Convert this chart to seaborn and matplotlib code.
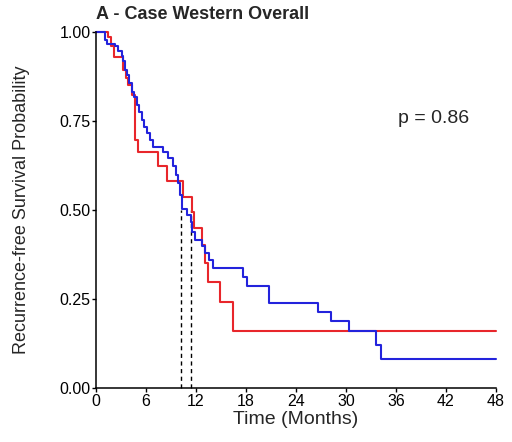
import numpy as np
import pandas as pd
import matplotlib
matplotlib.use('Agg')
import matplotlib.pyplot as plt
import seaborn as sns

# Kaplan-Meier step values (time in months, survival after step)
red_time = [0, 1.44, 1.76, 2.16, 3.28, 3.6, 3.84, 4.28, 4.68, 5.08, 7.48, 8.52,
            10.44, 11.52, 11.76, 12.68, 13.08, 13.48, 14.88, 16.48, 48]
red_surv = [1.0, 0.985, 0.960, 0.929, 0.893, 0.871, 0.851, 0.823, 0.697, 0.664, 0.624, 0.581,
            0.537, 0.494, 0.449, 0.402, 0.351, 0.299, 0.242, 0.160, 0.160]

blue_time = [0, 1.08, 1.32, 2.28, 2.64, 3.08, 3.24, 3.48, 3.68, 3.96, 4.28, 4.56, 4.88,
             5.16, 5.48, 5.76, 6.08, 6.48, 6.84, 8.04, 8.64, 9.28, 9.6, 9.88, 10.08,
             10.28, 10.88, 11.36, 11.52, 11.88, 12.68, 13.08, 13.56, 14.08, 17.68,
             18.08, 20.76, 26.64, 28.2, 30.36, 33.6, 34.2, 48]
blue_surv = [1.0, 0.978, 0.966, 0.959, 0.945, 0.933, 0.917, 0.893, 0.879, 0.856, 0.832, 0.818,
             0.795, 0.776, 0.753, 0.734, 0.716, 0.697, 0.678, 0.664, 0.646, 0.622, 0.598,
             0.576, 0.542, 0.503, 0.486, 0.467, 0.439, 0.416, 0.399, 0.379, 0.360, 0.337,
             0.313, 0.287, 0.239, 0.213, 0.188, 0.160, 0.121, 0.081, 0.081]

medians = [10.2, 11.4]
x_ticks = [0, 6, 12, 18, 24, 30, 36, 42, 48]
y_ticks = [0.00, 0.25, 0.50, 0.75, 1.00]

df = pd.concat([
    pd.DataFrame({'time': red_time, 'surv': red_surv, 'group': 'red'}),
    pd.DataFrame({'time': blue_time, 'surv': blue_surv, 'group': 'blue'}),
])

sns.set_style('white')
plt.rcParams['font.family'] = ['Liberation Sans', 'DejaVu Sans']

fig = plt.figure(figsize=(5.12, 4.42), dpi=100)
ax = fig.add_axes([0.1875, 0.122, 0.781, 0.806])

# medianlinjer
for m in medians:
    ax.plot([m, m], [0, 0.5], color='black', linestyle=(0, (3, 2.5)), linewidth=1.0)

sns.lineplot(data=df, x='time', y='surv', hue='group',
             palette={'red': '#e8262b', 'blue': '#2323dc'},
             hue_order=['red', 'blue'],
             estimator=None, sort=False, drawstyle='steps-post',
             linewidth=1.5, legend=False, ax=ax)
for ln in ax.get_lines():
    ln.set_clip_on(False)

ax.set_xlim(0, 48)
ax.set_ylim(0, 1)
ax.set_xticks(x_ticks)
ax.set_yticks(y_ticks)
ax.set_yticklabels([f'{v:.2f}' for v in y_ticks])
ax.tick_params(axis='both', direction='out', length=3, width=1, color='black',
               labelsize=11.5, labelcolor='black', pad=1)
ax.tick_params(axis='both', bottom=True, left=True)
sns.despine(ax=ax)
for s in ['left', 'bottom']:
    ax.spines[s].set_color('black')
    ax.spines[s].set_linewidth(1.1)

ax.set_xlabel('Time (Months)', fontsize=14, labelpad=1.5)
ax.set_ylabel('Recurrence-free Survival Probability', fontsize=13, labelpad=21)
ax.set_title('A - Case Western Overall', fontsize=13, fontweight='bold', loc='left', pad=9)
ax.text(40.5, 0.758, 'p = 0.86', fontsize=14, ha='center', va='center')

fig.savefig('out.png', dpi=100)
